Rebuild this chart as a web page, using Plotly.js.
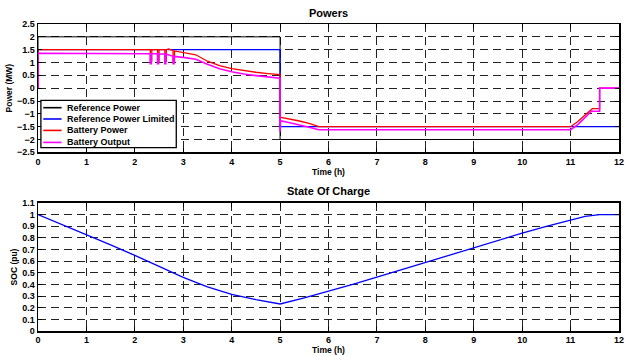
<!DOCTYPE html>
<html>
<head>
<meta charset="utf-8">
<script src="https://cdn.plot.ly/plotly-3.0.1.min.js"></script>
<style>html,body{margin:0;padding:0;background:#fff;}#chart{width:625px;height:356px;}</style>
</head>
<body>
<div id="chart"></div>
<script>
// ---- Data ----
var seriesNames = ['Reference Power', 'Reference Power Limited', 'Battery Power', 'Battery Output'];
var seriesColors = ['#000000', '#0000ff', '#ff0000', '#ff00ff'];

var refPowerT = [0, 0, 5, 5, 12];
var refPowerV = [0, 2, 2, -2, -2];

var refLimitedT = [0, 0, 5, 5, 12];
var refLimitedV = [0, 1.5, 1.5, -1.5, -1.5];

var batPowerT = [0, 0, 2.32, 2.32, 2.35, 2.35, 2.47, 2.47, 2.50, 2.50, 2.62, 2.62, 2.65, 2.65, 2.70, 2.79, 2.79, 2.82, 2.82, 3.0, 3.26, 3.5, 3.75, 4.0, 4.25, 4.5, 4.75, 5.0, 5.0, 5.2, 5.4, 5.6, 5.8, 11.0, 11.15, 11.3, 11.45, 11.6, 11.6, 12];
var batPowerV = [0, 1.5, 1.5, 1.05, 1.05, 1.5, 1.5, 1.05, 1.05, 1.5, 1.5, 1.05, 1.05, 1.5, 1.53, 1.46, 1.05, 1.05, 1.45, 1.4, 1.3, 1.05, 0.88, 0.76, 0.68, 0.62, 0.57, 0.53, -1.13, -1.2, -1.28, -1.37, -1.5, -1.5, -1.3, -1.05, -0.8, -0.8, 0, 0];

var batOutT = [0, 0, 2.32, 2.32, 2.34, 2.34, 2.47, 2.47, 2.49, 2.49, 2.62, 2.62, 2.64, 2.64, 2.79, 2.79, 2.81, 2.81, 3.0, 3.26, 3.5, 3.75, 4.0, 4.25, 4.5, 4.75, 5.0, 5.0, 5.01, 5.2, 5.4, 5.6, 5.8, 11.0, 11.15, 11.3, 11.43, 11.6, 11.6, 12];
var batOutV = [0, 1.36, 1.34, 0.95, 0.95, 1.34, 1.34, 0.95, 0.95, 1.34, 1.33, 0.95, 0.95, 1.33, 1.24, 0.95, 0.95, 1.24, 1.2, 1.13, 0.93, 0.76, 0.64, 0.55, 0.49, 0.44, 0.39, -1.7, -1.27, -1.35, -1.43, -1.52, -1.62, -1.62, -1.42, -1.15, -0.9, -0.9, 0, 0];

var socT = [0, 0.5, 1, 1.5, 2, 2.5, 3, 3.5, 4, 4.5, 5, 5.5, 6, 6.5, 7, 7.5, 8, 8.5, 9, 9.5, 10, 10.5, 11, 11.3, 11.6, 12];
var socV = [1.0, 0.915, 0.83, 0.74, 0.65, 0.555, 0.46, 0.38, 0.315, 0.27, 0.232, 0.285, 0.34, 0.4, 0.462, 0.525, 0.589, 0.653, 0.718, 0.78, 0.841, 0.9, 0.956, 0.985, 1.0, 1.0];

var xTicks = [0,1,2,3,4,5,6,7,8,9,10,11,12];
var powerTicks = [-2.5,-2,-1.5,-1,-0.5,0,0.5,1,1.5,2,2.5];
var socTicks = [0,0.1,0.2,0.3,0.4,0.5,0.6,0.7,0.8,0.9,1,1.1];

// ---- Traces ----
var powerX = [refPowerT, refLimitedT, batPowerT, batOutT];
var powerY = [refPowerV, refLimitedV, batPowerV, batOutV];
var powerW = [1, 1.3, 1.3, 1.6];
var traces = [];
for (var i = 0; i < 4; i++) {
  traces.push({x: powerX[i], y: powerY[i], mode: 'lines', name: seriesNames[i], showlegend: false,
    line: {color: seriesColors[i], width: powerW[i]}, xaxis: 'x', yaxis: 'y'});
}
traces.push({x: socT, y: socV, mode: 'lines', name: 'SOC', showlegend: false,
  line: {color: '#0000ff', width: 1.3}, xaxis: 'x2', yaxis: 'y2'});

var axCommon = {
  showline: true, linecolor: '#000', linewidth: 1.5, mirror: 'ticks',
  ticks: 'inside', ticklen: 4, tickcolor: '#000', tickwidth: 1,
  showgrid: true, gridcolor: '#222', gridwidth: 1, griddash: '8px,5px',
  zeroline: false, tickfont: {size: 9, weight: 'bold'}, ticklabeloverflow: 'allow'
};
function ax(extra) { return Object.assign({}, axCommon, extra); }

// ---- Custom compact legend (box, line samples, labels) ----
var legBox = {x0: 0.005, x1: 0.238, y0: 0.597, y1: 0.751};
var legRowsY = [0.7274, 0.6906, 0.6534, 0.6143];
var legLineX = [0.0091, 0.0406];
var legTextX = 0.0467;
var shapes = [{type: 'rect', xref: 'paper', yref: 'paper', x0: legBox.x0, x1: legBox.x1, y0: legBox.y0, y1: legBox.y1,
  line: {color: '#000', width: 1.3}, fillcolor: '#fff', layer: 'above'}];
var annotations = [
  {text: 'Powers', xref: 'paper', yref: 'paper', x: 0.5, y: 1, yanchor: 'bottom', yshift: 3, showarrow: false, font: {size: 11, weight: 'bold'}},
  {text: 'State Of Charge', xref: 'paper', yref: 'paper', x: 0.5, y: 0.417, yanchor: 'bottom', yshift: 4, showarrow: false, font: {size: 11, weight: 'bold'}}
];
for (var j = 0; j < 4; j++) {
  shapes.push({type: 'line', xref: 'paper', yref: 'paper', x0: legLineX[0], x1: legLineX[1], y0: legRowsY[j], y1: legRowsY[j],
    line: {color: seriesColors[j], width: 1.6}, layer: 'above'});
  annotations.push({text: seriesNames[j], xref: 'paper', yref: 'paper', x: legTextX, y: legRowsY[j], xanchor: 'left', yanchor: 'middle',
    showarrow: false, font: {size: 9, weight: 'bold'}});
}

var layout = {
  width: 625, height: 356,
  margin: {l: 38, r: 6, t: 24, b: 25},
  paper_bgcolor: '#fff', plot_bgcolor: '#fff',
  font: {family: 'Liberation Sans, Arial, sans-serif', size: 9, color: '#000', weight: 'bold'},
  showlegend: false,
  xaxis: ax({domain: [0, 1], range: [0, 12], tickvals: xTicks, anchor: 'y',
    title: {text: 'Time (h)', font: {size: 8.5, weight: 'bold'}, standoff: 1}}),
  yaxis: ax({domain: [0.582, 1], range: [-2.5, 2.5], tickvals: powerTicks, anchor: 'x',
    title: {text: 'Power (MW)', font: {size: 8.5, weight: 'bold'}, standoff: 3}}),
  xaxis2: ax({domain: [0, 1], range: [0, 12], tickvals: xTicks, anchor: 'y2',
    title: {text: 'Time (h)', font: {size: 8.5, weight: 'bold'}, standoff: 1}}),
  yaxis2: ax({domain: [0, 0.417], range: [0, 1.1], tickvals: socTicks, anchor: 'x2',
    title: {text: 'SOC (pu)', font: {size: 8.5, weight: 'bold'}, standoff: 3}}),
  shapes: shapes,
  annotations: annotations
};

Plotly.newPlot('chart', traces, layout, {displayModeBar: false, staticPlot: true});
</script>
</body>
</html>
